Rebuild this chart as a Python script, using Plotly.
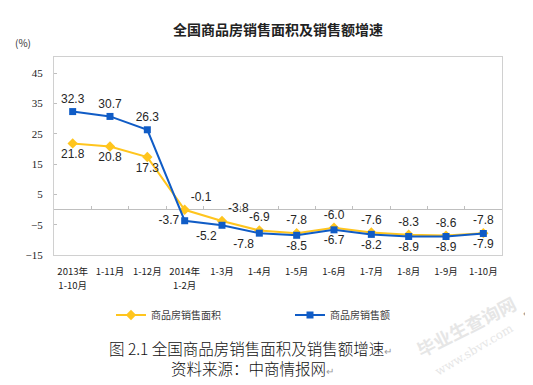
import plotly.graph_objects as go

categories = ["2013年<br>1-10月", "1-11月", "1-12月", "2014年<br>1-2月", "1-3月", "1-4月",
              "1-5月", "1-6月", "1-7月", "1-8月", "1-9月", "1-10月"]
area_growth = [21.8, 20.8, 17.3, -0.1, -3.8, -6.9, -7.8, -6.0, -7.6, -8.3, -8.6, -7.8]
sales_growth = [32.3, 30.7, 26.3, -3.7, -5.2, -7.8, -8.5, -6.7, -8.2, -8.9, -8.9, -7.9]
y_ticks = [-15, -5, 5, 15, 25, 35, 45]
series_names = ["商品房销售面积", "商品房销售额"]

# two rows of tick text, derived from the category names
row1 = [c.split("<br>")[0] for c in categories]
row2 = [c.split("<br>")[1] if "<br>" in c else "" for c in categories]
idx = list(range(len(categories)))

# page has an 8px body margin; compensate so the figure lines up with the window
OFF = 8
W, H = 533 - OFF, 385 - OFF
PL, PR, PT, PB = 54, 502, 57, 255          # plot area in window pixels
L, T = PL - OFF, PT - OFF
R, B = W - (PR - OFF), H - (PB - OFF)
ymin, ymax = -15, 50.3
zero_pos = (0 - ymin) / (ymax - ymin)
xr = [-0.5, len(categories) - 0.5]

area_pos = ["bottom center"] * 3 + ["top right", "top right"] + ["top center"] * 7
sales_pos = ["top center"] * 3 + ["middle left", "bottom left", "bottom left"] + ["bottom center"] * 6

label_font = dict(family="Liberation Sans, Arial", size=12, color="#262626")
tick_font = dict(family="Noto Sans CJK SC", size=9.5, color="#222")

fig = go.Figure()
fig.add_trace(go.Scatter(
    x=categories, y=area_growth, name=series_names[0], mode="lines+markers+text",
    line=dict(color="#FFC51E", width=2),
    marker=dict(symbol="diamond", size=8, color="#FFC51E"),
    text=[f"{v:.1f}" for v in area_growth], textposition=area_pos, textfont=label_font,
    cliponaxis=False,
))
fig.add_trace(go.Scatter(
    x=categories, y=sales_growth, name=series_names[1], mode="lines+markers+text",
    line=dict(color="#105CC6", width=2),
    marker=dict(symbol="square", size=7, color="#105CC6"),
    text=[f"{v:.1f}" for v in sales_growth], textposition=sales_pos, textfont=label_font,
    cliponaxis=False,
))
# helper traces so the overlay axes are drawn
for ax in ("x2", "x3"):
    fig.add_trace(go.Scatter(x=[None], y=[None], xaxis=ax, yaxis="y", showlegend=False,
                             hoverinfo="skip", mode="lines"))

fig.update_layout(
    width=W, height=H,
    margin=dict(l=L, r=R, t=T, b=B),
    paper_bgcolor="white", plot_bgcolor="white",
    title=dict(text="<b>全国商品房销售面积及销售额增速</b>", x=0.5, xref="paper",
               y=1 - (30 - OFF) / H, yref="container", yanchor="middle", xanchor="center",
               font=dict(family="Noto Sans CJK SC", size=14, color="#222")),
    xaxis=dict(type="category", range=xr, showline=True, mirror=True,
               linecolor="#D0D0D0", linewidth=1, ticks="", showgrid=False,
               tickmode="array", tickvals=categories, ticktext=row1,
               ticklabelstandoff=8, tickfont=tick_font),
    xaxis2=dict(overlaying="x", anchor="free", position=zero_pos, range=xr,
                tickmode="array", tickvals=[i + 0.5 for i in idx[:-1]],
                ticks="inside", ticklen=4, tickcolor="#BFBFBF", showticklabels=False,
                showline=False, showgrid=False, zeroline=False),
    xaxis3=dict(overlaying="x", anchor="y", side="bottom", range=xr,
                tickmode="array", tickvals=idx, ticktext=row2, ticks="",
                showline=False, showgrid=False, zeroline=False,
                ticklabelstandoff=23, tickfont=tick_font),
    yaxis=dict(range=[ymin, ymax], tickmode="array", tickvals=y_ticks,
               showline=True, mirror=True, linecolor="#D0D0D0", linewidth=1,
               ticks="inside", ticklen=3, tickcolor="#BFBFBF", showgrid=False,
               zeroline=True, zerolinecolor="#BFBFBF", zerolinewidth=1,
               ticklabelstandoff=8,
               tickfont=dict(family="Liberation Serif, Times New Roman", size=11, color="#222")),
    legend=dict(orientation="h", x=(111 - PL) / (PR - PL), xanchor="left",
                y=(PB - 315) / (PB - PT), yanchor="middle", entrywidth=134, entrywidthmode="pixels",
                font=dict(family="Noto Sans CJK SC", size=10, color="#404040"),
                bgcolor="rgba(0,0,0,0)"),
    showlegend=True,
)

def px_x(p):
    return (p - PL) / (PR - PL)

def px_y(p):
    return (PB - p) / (PB - PT)

def note(text, x, y, font, angle=0, anchor="center"):
    fig.add_annotation(text=text, x=px_x(x), y=px_y(y), xref="paper", yref="paper",
                       xanchor=anchor, yanchor="middle", showarrow=False,
                       textangle=angle, font=font)

ret = '<span style="color:#9a9a9a;font-size:10px">↵</span>'
note("(%)", 23, 42, dict(family="Noto Sans CJK SC", size=10, color="#333"))
note("图 2.1 全国商品房销售面积及销售额增速" + ret, 107, 348,
     dict(family="Noto Sans CJK SC", size=15.5, color="#111", weight=300), anchor="left")
note("资料来源：中商情报网" + ret, 169, 368,
     dict(family="Noto Sans CJK SC", size=15.5, color="#111", weight=300), anchor="left")
note(ret, 527, 313, dict(size=10, color="#9a9a9a"))
# faint watermark
note("毕业生查询网", 466, 326, dict(family="Noto Sans CJK SC", size=18, color="#E6E6E6", weight=700),
     angle=-27)
note("www.sbvv.com", 474, 350, dict(family="DejaVu Serif", size=12, color="#E6E6E6"), angle=-31)

fig.write_html("out.html")
